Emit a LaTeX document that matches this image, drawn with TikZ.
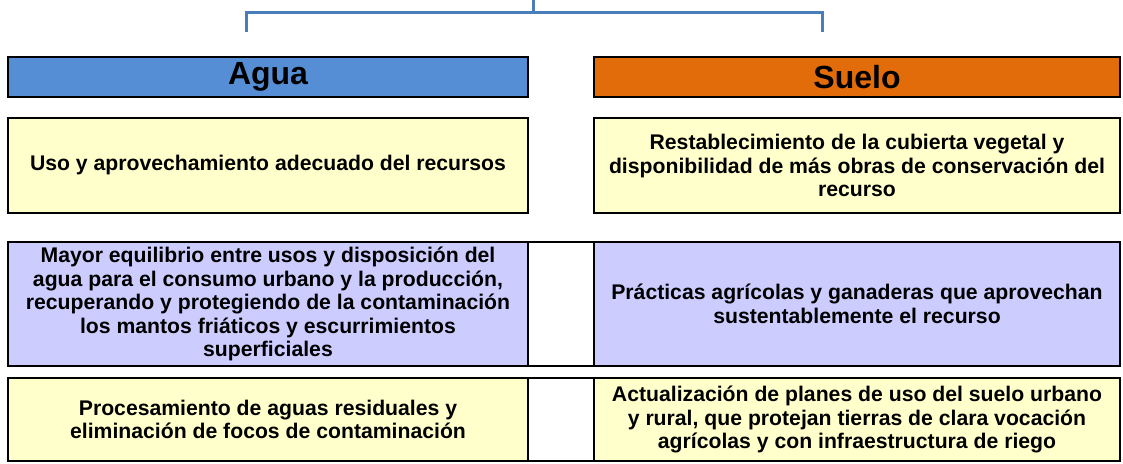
\documentclass[tikz,border=0pt]{standalone}
\usepackage{fontspec}
\setmainfont{Liberation Sans}
\definecolor{aguablue}{HTML}{558ED5}
\definecolor{sueloorange}{HTML}{E36C0A}
\definecolor{paleyellow}{HTML}{FFFFCC}
\definecolor{palepurple}{HTML}{CCCCFF}
\definecolor{linkblue}{HTML}{4A7EBB}
\begin{document}
\begin{tikzpicture}[x=1pt,y=-1pt,
  cell/.style={draw=black, line width=2.5pt, rectangle, inner sep=0pt, align=center,
    font=\fontsize{21.2}{23.5}\bfseries\selectfont},
  titlebox/.style={cell, minimum height=40pt, font=\fontsize{32}{36}\bfseries\selectfont},
  leftcol/.style={minimum width=520pt},
  midcol/.style={minimum width=66pt, fill=white},
  rightcol/.style={minimum width=526pt},
  link/.style={draw=linkblue, line width=3pt}]
\useasboundingbox (0,0) rectangle (1123,463);
\fill[white] (0,0) rectangle (1123,463);
% titles
\node[titlebox, leftcol, fill=aguablue] (agua) at (268,77) {Agua};
\node[titlebox, rightcol, fill=sueloorange] (suelo) at (857,77) {Suelo};
% row 1
\node[cell, leftcol, minimum height=95pt, fill=paleyellow] (a1) at (268,165.5)
  {Uso y aprovechamiento adecuado del recursos};
\node[cell, rightcol, minimum height=95pt, fill=paleyellow] (s1) at (857,165.5)
  {Restablecimiento de la cubierta vegetal y\\disponibilidad de más obras de conservación del\\recurso};
% row 2
\node[cell, leftcol, minimum height=124pt, fill=palepurple] (a2) at (268,304)
  {Mayor equilibrio entre usos y disposición del\\agua para el consumo urbano y la producción,\\recuperando y protegiendo de la contaminación\\los mantos friáticos y escurrimientos\\superficiales};
\node[cell, midcol, minimum height=124pt] (m2) at (561,304) {};
\node[cell, rightcol, minimum height=124pt, fill=palepurple] (s2) at (857,304)
  {Prácticas agrícolas y ganaderas que aprovechan\\sustentablemente el recurso};
% row 3
\node[cell, leftcol, minimum height=83pt, fill=paleyellow] (a3) at (268,419.5)
  {Procesamiento de aguas residuales y\\eliminación de focos de contaminación};
\node[cell, midcol, minimum height=83pt] (m3) at (561,419.5) {};
\node[cell, rightcol, minimum height=83pt, fill=paleyellow] (s3) at (857,419.5)
  {Actualización de planes de uso del suelo urbano\\y rural, que protejan tierras de clara vocación\\agrícolas y con infraestructura de riego};
% connector
\coordinate (top) at (533,0);
\coordinate (hub) at (533,12);
\coordinate (lt) at (246,12);
\coordinate (rt) at (822,12);
\coordinate (lend) at (246,32);
\coordinate (rend) at (822,32);
\draw[link] (top) -- (hub);
\draw[link] (lend) -- (lt) -- (rt) -- (rend);
\end{tikzpicture}
\end{document}
